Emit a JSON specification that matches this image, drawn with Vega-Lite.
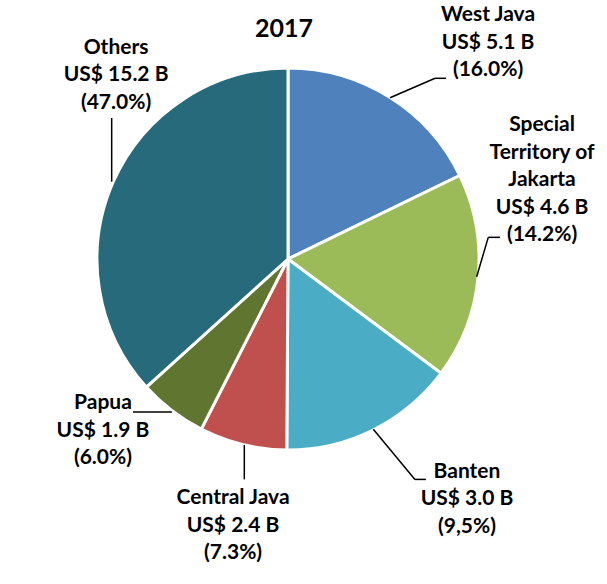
{
  "$schema": "https://vega.github.io/schema/vega-lite/v6.json",
  "width": 576,
  "height": 418,
  "autosize": "none",
  "padding": {"left": 0, "top": 50, "right": 31, "bottom": 116},
  "background": "white",
  "config": {"view": {"stroke": null}},
  "data": {"values": [
    {"rank": 1, "region": "West Java", "share": 17.8, "label": "West Java|US$ 5.1 B|(16.0%)"},
    {"rank": 2, "region": "Special Territory of Jakarta", "share": 17.4, "label": "Special|Territory of|Jakarta|US$ 4.6 B|(14.2%)"},
    {"rank": 3, "region": "Banten", "share": 14.9, "label": "Banten|US$ 3.0 B|(9,5%)"},
    {"rank": 4, "region": "Central Java", "share": 7.4, "label": "Central Java|US$ 2.4 B|(7.3%)"},
    {"rank": 5, "region": "Papua", "share": 5.8, "label": "Papua|US$ 1.9 B|(6.0%)"},
    {"rank": 6, "region": "Others", "share": 36.7, "label": "Others|US$ 15.2 B|(47.0%)"}
  ]},
  "layer": [
    {
      "mark": {"type": "arc", "radius": 191, "stroke": "white", "strokeWidth": 3},
      "encoding": {
        "theta": {"field": "share", "type": "quantitative", "stack": true},
        "order": {"field": "rank", "type": "quantitative"},
        "color": {"field": "region", "type": "nominal", "legend": null,
          "scale": {"domain": ["West Java", "Special Territory of Jakarta", "Banten", "Central Java", "Papua", "Others"],
                    "range": ["#4F81BD", "#9BBB59", "#4BACC6", "#C0504D", "#5F7530", "#276A7B"]}}
      }
    },
    {
      "transform": [{"filter": "datum.rank === 1"}],
      "mark": {"type": "text", "text": "2017", "font": "Lato", "fontSize": 25, "fontWeight": "bold", "color": "black", "align": "center", "baseline": "middle"},
      "encoding": {
        "x": {"datum": -2.1, "type": "quantitative", "scale": {"domain": [-151.58, 151.58], "nice": false, "zero": false}, "axis": null},
        "y": {"datum": 120.8, "type": "quantitative", "scale": {"domain": [-110, 110], "nice": false, "zero": false}, "axis": null}
      }
    },
    {
      "transform": [{"filter": "datum.region === 'West Java'"}],
      "mark": {"type": "text", "font": "Lato", "fontSize": 21, "fontWeight": "bold", "color": "black", "align": "center", "baseline": "middle", "lineBreak": "|", "lineHeight": 27.5},
      "encoding": {
        "x": {"datum": 105.3, "type": "quantitative", "scale": {"domain": [-151.58, 151.58], "nice": false, "zero": false}, "axis": null},
        "y": {"datum": 128.4, "type": "quantitative", "scale": {"domain": [-110, 110], "nice": false, "zero": false}, "axis": null},
        "text": {"field": "label"}
      }
    },
    {
      "transform": [{"filter": "datum.region === 'Special Territory of Jakarta'"}],
      "mark": {"type": "text", "font": "Lato", "fontSize": 21, "fontWeight": "bold", "color": "black", "align": "center", "baseline": "middle", "lineBreak": "|", "lineHeight": 27.5},
      "encoding": {
        "x": {"datum": 133.7, "type": "quantitative", "scale": {"domain": [-151.58, 151.58], "nice": false, "zero": false}, "axis": null},
        "y": {"datum": 70.5, "type": "quantitative", "scale": {"domain": [-110, 110], "nice": false, "zero": false}, "axis": null},
        "text": {"field": "label"}
      }
    },
    {
      "transform": [{"filter": "datum.region === 'Banten'"}],
      "mark": {"type": "text", "font": "Lato", "fontSize": 21, "fontWeight": "bold", "color": "black", "align": "center", "baseline": "middle", "lineBreak": "|", "lineHeight": 27.5},
      "encoding": {
        "x": {"datum": 94.2, "type": "quantitative", "scale": {"domain": [-151.58, 151.58], "nice": false, "zero": false}, "axis": null},
        "y": {"datum": -112.1, "type": "quantitative", "scale": {"domain": [-110, 110], "nice": false, "zero": false}, "axis": null},
        "text": {"field": "label"}
      }
    },
    {
      "transform": [{"filter": "datum.region === 'Central Java'"}],
      "mark": {"type": "text", "font": "Lato", "fontSize": 21, "fontWeight": "bold", "color": "black", "align": "center", "baseline": "middle", "lineBreak": "|", "lineHeight": 27.5},
      "encoding": {
        "x": {"datum": -28.9, "type": "quantitative", "scale": {"domain": [-151.58, 151.58], "nice": false, "zero": false}, "axis": null},
        "y": {"datum": -125.8, "type": "quantitative", "scale": {"domain": [-110, 110], "nice": false, "zero": false}, "axis": null},
        "text": {"field": "label"}
      }
    },
    {
      "transform": [{"filter": "datum.region === 'Papua'"}],
      "mark": {"type": "text", "font": "Lato", "fontSize": 21, "fontWeight": "bold", "color": "black", "align": "center", "baseline": "middle", "lineBreak": "|", "lineHeight": 27.5},
      "encoding": {
        "x": {"datum": -97.4, "type": "quantitative", "scale": {"domain": [-151.58, 151.58], "nice": false, "zero": false}, "axis": null},
        "y": {"datum": -75.8, "type": "quantitative", "scale": {"domain": [-110, 110], "nice": false, "zero": false}, "axis": null},
        "text": {"field": "label"}
      }
    },
    {
      "transform": [{"filter": "datum.region === 'Others'"}],
      "mark": {"type": "text", "font": "Lato", "fontSize": 21, "fontWeight": "bold", "color": "black", "align": "center", "baseline": "middle", "lineBreak": "|", "lineHeight": 27.5},
      "encoding": {
        "x": {"datum": -90.5, "type": "quantitative", "scale": {"domain": [-151.58, 151.58], "nice": false, "zero": false}, "axis": null},
        "y": {"datum": 111.1, "type": "quantitative", "scale": {"domain": [-110, 110], "nice": false, "zero": false}, "axis": null},
        "text": {"field": "label"}
      }
    },
    {
      "transform": [{"filter": "datum.region === 'West Java'"}],
      "mark": {"type": "rule", "color": "black", "strokeWidth": 1.5},
      "encoding": {
        "x": {"datum": 53.7, "type": "quantitative", "scale": {"domain": [-151.58, 151.58], "nice": false, "zero": false}, "axis": null},
        "y": {"datum": 84.9, "type": "quantitative", "scale": {"domain": [-110, 110], "nice": false, "zero": false}, "axis": null},
        "x2": {"datum": 77.4},
        "y2": {"datum": 95.1}
      }
    },
    {
      "transform": [{"filter": "datum.region === 'West Java'"}],
      "mark": {"type": "rule", "color": "black", "strokeWidth": 1.5},
      "encoding": {
        "x": {"datum": 77.4, "type": "quantitative", "scale": {"domain": [-151.58, 151.58], "nice": false, "zero": false}, "axis": null},
        "y": {"datum": 95.1, "type": "quantitative", "scale": {"domain": [-110, 110], "nice": false, "zero": false}, "axis": null},
        "x2": {"datum": 83.2},
        "y2": {"datum": 95.1}
      }
    },
    {
      "transform": [{"filter": "datum.region === 'Special Territory of Jakarta'"}],
      "mark": {"type": "rule", "color": "black", "strokeWidth": 1.5},
      "encoding": {
        "x": {"datum": 99.3, "type": "quantitative", "scale": {"domain": [-151.58, 151.58], "nice": false, "zero": false}, "axis": null},
        "y": {"datum": -9.3, "type": "quantitative", "scale": {"domain": [-110, 110], "nice": false, "zero": false}, "axis": null},
        "x2": {"datum": 105.4},
        "y2": {"datum": 11.4}
      }
    },
    {
      "transform": [{"filter": "datum.region === 'Special Territory of Jakarta'"}],
      "mark": {"type": "rule", "color": "black", "strokeWidth": 1.5},
      "encoding": {
        "x": {"datum": 105.4, "type": "quantitative", "scale": {"domain": [-151.58, 151.58], "nice": false, "zero": false}, "axis": null},
        "y": {"datum": 11.4, "type": "quantitative", "scale": {"domain": [-110, 110], "nice": false, "zero": false}, "axis": null},
        "x2": {"datum": 111.6},
        "y2": {"datum": 11.4}
      }
    },
    {
      "transform": [{"filter": "datum.region === 'Banten'"}],
      "mark": {"type": "rule", "color": "black", "strokeWidth": 1.5},
      "encoding": {
        "x": {"datum": 44.9, "type": "quantitative", "scale": {"domain": [-151.58, 151.58], "nice": false, "zero": false}, "axis": null},
        "y": {"datum": -89.6, "type": "quantitative", "scale": {"domain": [-110, 110], "nice": false, "zero": false}, "axis": null},
        "x2": {"datum": 66.8},
        "y2": {"datum": -116.0}
      }
    },
    {
      "transform": [{"filter": "datum.region === 'Banten'"}],
      "mark": {"type": "rule", "color": "black", "strokeWidth": 1.5},
      "encoding": {
        "x": {"datum": 66.8, "type": "quantitative", "scale": {"domain": [-151.58, 151.58], "nice": false, "zero": false}, "axis": null},
        "y": {"datum": -116.0, "type": "quantitative", "scale": {"domain": [-110, 110], "nice": false, "zero": false}, "axis": null},
        "x2": {"datum": 72.6},
        "y2": {"datum": -116.0}
      }
    },
    {
      "transform": [{"filter": "datum.region === 'Central Java'"}],
      "mark": {"type": "rule", "color": "black", "strokeWidth": 1.5},
      "encoding": {
        "x": {"datum": -23.0, "type": "quantitative", "scale": {"domain": [-151.58, 151.58], "nice": false, "zero": false}, "axis": null},
        "y": {"datum": -97.9, "type": "quantitative", "scale": {"domain": [-110, 110], "nice": false, "zero": false}, "axis": null},
        "x2": {"datum": -23.0},
        "y2": {"datum": -116.0}
      }
    },
    {
      "transform": [{"filter": "datum.region === 'Papua'"}],
      "mark": {"type": "rule", "color": "black", "strokeWidth": 1.5},
      "encoding": {
        "x": {"datum": -61.1, "type": "quantitative", "scale": {"domain": [-151.58, 151.58], "nice": false, "zero": false}, "axis": null},
        "y": {"datum": -80.5, "type": "quantitative", "scale": {"domain": [-110, 110], "nice": false, "zero": false}, "axis": null},
        "x2": {"datum": -81.6},
        "y2": {"datum": -80.5}
      }
    },
    {
      "transform": [{"filter": "datum.region === 'Others'"}],
      "mark": {"type": "rule", "color": "black", "strokeWidth": 1.5},
      "encoding": {
        "x": {"datum": -92.8, "type": "quantitative", "scale": {"domain": [-151.58, 151.58], "nice": false, "zero": false}, "axis": null},
        "y": {"datum": 74.2, "type": "quantitative", "scale": {"domain": [-110, 110], "nice": false, "zero": false}, "axis": null},
        "x2": {"datum": -92.8},
        "y2": {"datum": 40.7}
      }
    }
  ]
}
